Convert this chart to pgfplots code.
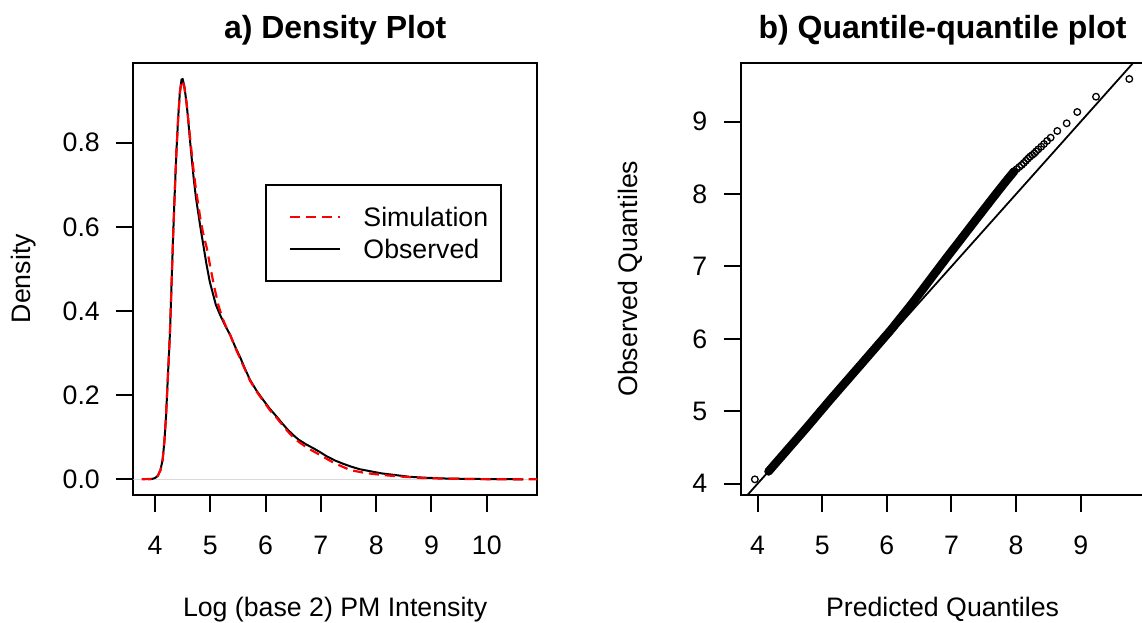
\documentclass[border=0pt]{standalone}
\usepackage{fontspec}
\setmainfont{Liberation Sans}
\usepackage{pgfplots}
\pgfplotsset{compat=1.18}
\newcommand{\basefont}{\fontsize{26.7}{32}\selectfont}
\begin{document}
\begin{tikzpicture}
\useasboundingbox (0pt,0pt) rectangle (1142pt,623pt);
\pgfplotsset{
  rpanel/.style={
    scale only axis, width=403.7pt, height=432pt, anchor=south west,
    axis line style={line width=2pt},
    major tick style={line width=2pt, black},
    major tick length=17pt, tick align=outside,
    xtick pos=left, ytick pos=left,
    ticklabel style={font=\basefont},
    /pgf/number format/assume math mode=true,
    xticklabel style={anchor=base, yshift=-42.3pt, inner sep=0pt},
    yticklabel style={anchor=east, xshift=-16.3pt, inner sep=0pt},
    title style={at={(axis description cs:0.5,1.042)}, anchor=base, font=\bfseries\fontsize{32}{38}\selectfont},
    xlabel style={at={(axis description cs:0.5,-0.281)}, anchor=base, font=\basefont},
    clip=true,
  }
}
% ---------- a) Density plot ----------
\begin{axis}[rpanel,
  at={(133.3pt,128.3pt)},
  xmin=3.608, xmax=10.908, ymin=-0.0366, ymax=0.990,
  xtick={4,5,6,7,8,9,10},
  ytick={0,0.2,0.4,0.6,0.8},
  yticklabel style={/pgf/number format/.cd, fixed, fixed zerofill, precision=1},
  title={a) Density Plot},
  xlabel={Log (base 2) PM Intensity},
  ylabel={Density},
  ylabel style={at={(axis description cs:-0.2542,0.5)}, anchor=base, font=\basefont},
  reverse legend,
  legend image code/.code={\draw[#1] (0pt,0pt) -- (50pt,0pt);},
  legend cell align=left,
  legend style={at={(axis description cs:0.3262,0.7192)}, anchor=north west,
    draw=black, line width=2pt, inner xsep=23.3pt, inner ysep=16pt,
    row sep=0pt, column sep=22pt, font=\basefont,
    nodes={inner sep=0pt, text height=25.5pt, text depth=6.5pt}},
]
\addplot[gray!30, line width=1pt, forget plot] coordinates {(3.5,0) (11.2,0)};
\addplot[black, line width=2pt] coordinates {
(3.88,0) (3.95,0.001) (4.00,0.003) (4.05,0.008) (4.10,0.022) (4.14,0.048)
(4.17,0.09) (4.20,0.150) (4.23,0.235) (4.27,0.345) (4.30,0.465) (4.33,0.585)
(4.36,0.690) (4.39,0.785) (4.42,0.860) (4.45,0.920) (4.48,0.950) (4.50,0.951)
(4.53,0.935) (4.57,0.895) (4.60,0.855) (4.63,0.810) (4.67,0.755) (4.70,0.715)
(4.74,0.670) (4.78,0.635) (4.82,0.600) (4.87,0.560) (4.93,0.512) (4.99,0.470)
(5.05,0.440) (5.10,0.415) (5.18,0.390) (5.27,0.365) (5.36,0.343) (5.45,0.315)
(5.54,0.290) (5.63,0.262) (5.72,0.236) (5.84,0.210) (5.96,0.188) (6.08,0.167)
(6.20,0.149) (6.30,0.133) (6.40,0.118) (6.50,0.105) (6.60,0.094) (6.72,0.084)
(6.86,0.074) (6.98,0.065) (7.10,0.055) (7.25,0.045) (7.40,0.037) (7.55,0.030)
(7.70,0.024) (7.90,0.019) (8.10,0.014) (8.35,0.010) (8.60,0.006) (8.85,0.004)
(9.20,0.002) (9.64,0.001) (10.2,0.0003) (10.66,0)
};
\addlegendentry{\makebox[114pt][l]{Observed}}
\addplot[red, line width=2.2pt, dash pattern=on 10pt off 6pt] coordinates {
(3.76,0) (3.95,0.001) (4.00,0.003) (4.05,0.008) (4.10,0.022) (4.14,0.048)
(4.17,0.09) (4.20,0.150) (4.23,0.235) (4.27,0.345) (4.30,0.465) (4.33,0.585)
(4.36,0.690) (4.39,0.785) (4.42,0.860) (4.45,0.918) (4.48,0.946) (4.50,0.947)
(4.53,0.932) (4.57,0.895) (4.60,0.858) (4.63,0.818) (4.67,0.768) (4.70,0.732)
(4.74,0.690) (4.78,0.655) (4.82,0.620) (4.87,0.585) (4.94,0.548) (5.00,0.505)
(5.07,0.458) (5.15,0.412) (5.23,0.380) (5.30,0.358) (5.36,0.343) (5.45,0.313)
(5.54,0.287) (5.63,0.260) (5.72,0.234) (5.84,0.208) (5.96,0.186) (6.08,0.164)
(6.20,0.146) (6.30,0.130) (6.40,0.114) (6.50,0.100) (6.60,0.089) (6.75,0.075)
(6.98,0.058) (7.25,0.038) (7.53,0.022) (7.80,0.015) (8.13,0.010) (8.50,0.006)
(8.85,0.003) (9.30,0.0015) (9.80,0.0005) (10.3,0.0001) (11.0,0)
};
\addlegendentry{\makebox[114pt][l]{Simulation}}
\end{axis}
% ---------- b) QQ plot ----------
\begin{axis}[rpanel,
  at={(740.7pt,128.3pt)},
  xmin=3.739, xmax=9.986, ymin=3.848, ymax=9.815,
  xtick={4,5,6,7,8,9},
  ytick={4,5,6,7,8,9},
  title={b) Quantile-quantile plot},
  xlabel={Predicted Quantiles},
  ylabel={Observed Quantiles},
  ylabel style={at={(axis description cs:-0.2561,0.5)}, anchor=base, font=\basefont},
]
\addplot[black, line width=1.8pt] coordinates {(3.5,3.5) (10.2,10.2)};
\addplot[black, line width=8.5pt, line cap=round, line join=round] coordinates {
(4.17,4.170) (4.22,4.221) (4.27,4.273) (4.32,4.324) (4.37,4.375) (4.42,4.426)
(4.47,4.478) (4.52,4.529) (4.57,4.580) (4.62,4.631) (4.67,4.683) (4.72,4.734)
(4.77,4.786) (4.82,4.838) (4.87,4.891) (4.92,4.944) (4.97,4.997) (5.02,5.049)
(5.07,5.102) (5.12,5.155) (5.17,5.206) (5.22,5.257) (5.27,5.309) (5.32,5.360)
(5.37,5.411) (5.42,5.462) (5.47,5.514) (5.52,5.565) (5.57,5.616) (5.62,5.667)
(5.67,5.719) (5.72,5.770) (5.77,5.822) (5.82,5.873) (5.87,5.925) (5.92,5.976)
(5.97,6.028) (6.02,6.079) (6.07,6.132) (6.12,6.188) (6.17,6.244) (6.22,6.299)
(6.27,6.355) (6.32,6.411) (6.37,6.467) (6.42,6.524) (6.47,6.583) (6.52,6.642)
(6.57,6.701) (6.62,6.760) (6.67,6.820) (6.72,6.879) (6.77,6.938) (6.82,6.997)
(6.87,7.056) (6.92,7.115) (6.97,7.173) (7.02,7.231) (7.07,7.288) (7.12,7.346)
(7.17,7.404) (7.22,7.462) (7.27,7.520) (7.32,7.578) (7.37,7.636) (7.42,7.693)
(7.47,7.751) (7.52,7.809) (7.57,7.866) (7.62,7.924) (7.67,7.981) (7.72,8.038)
(7.77,8.094) (7.82,8.151) (7.87,8.206) (7.92,8.260) (7.97,8.314)
};
\addplot[only marks, mark=o, mark size=3.3pt, mark options={line width=1.3pt, black}] coordinates {
(3.958,4.06)
(4.17,4.170) (4.27,4.273) (4.37,4.375) (4.47,4.478) (4.57,4.580) (4.67,4.683)
(4.77,4.786) (4.87,4.891) (4.97,4.997) (5.07,5.102) (5.17,5.206) (5.27,5.309)
(5.37,5.411) (5.47,5.514) (5.57,5.616) (5.67,5.719) (5.77,5.822) (5.87,5.925)
(5.97,6.028) (6.07,6.132) (6.17,6.244) (6.27,6.355) (6.37,6.467) (6.47,6.583)
(6.57,6.701) (6.67,6.820) (6.77,6.938) (6.87,7.056) (6.97,7.173) (7.07,7.288)
(7.17,7.404) (7.27,7.520) (7.37,7.636) (7.47,7.751) (7.57,7.866) (7.67,7.981)
(7.77,8.094) (7.87,8.206) (7.97,8.314)
(8.01,8.345) (8.05,8.375) (8.087,8.402) (8.12,8.430) (8.153,8.461) (8.185,8.490)
(8.215,8.517) (8.25,8.540) (8.282,8.563) (8.31,8.590) (8.344,8.619) (8.39,8.655)
(8.432,8.692) (8.48,8.735) (8.535,8.779) (8.638,8.872) (8.783,8.978) (8.947,9.134)
(9.237,9.345) (9.752,9.590)
};
\end{axis}
\end{tikzpicture}
\end{document}
